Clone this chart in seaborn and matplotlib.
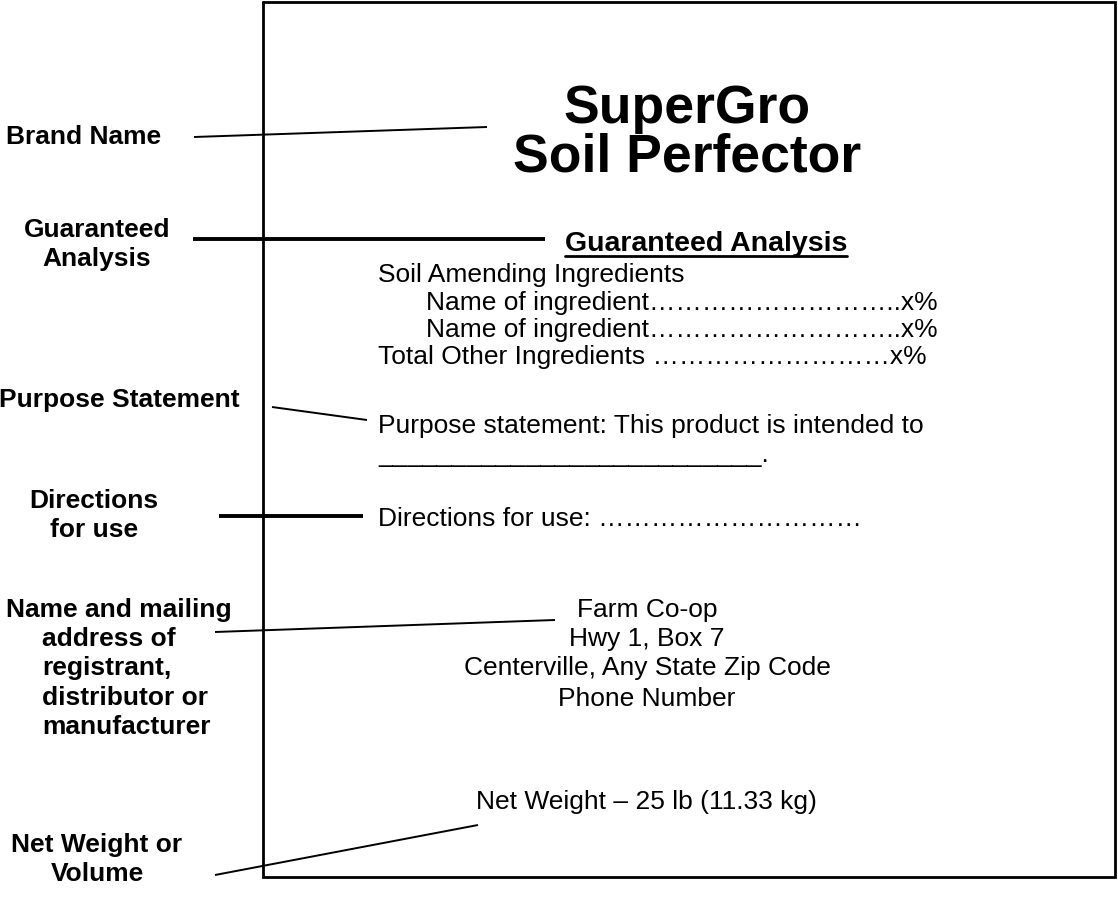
import matplotlib
matplotlib.use("Agg")
import matplotlib.pyplot as plt
import seaborn as sns

# Labels on the left side (bold), one entry per text line
label_lines = ['Brand Name',
               'Guaranteed', 'Analysis',
               'Purpose Statement',
               'Directions', 'for use',
               'Name and mailing', 'address of', 'registrant,',
               'distributor or', 'manufacturer',
               'Net Weight or', 'Volume']
label_x = [84, 97, 97, 119, 94, 94, 6, 42, 42, 42, 42, 97, 97]
label_y = [144, 237, 266, 407, 508, 537, 617, 646, 675, 705, 734, 852, 881]
label_ha = ['center', 'center', 'center', 'center', 'center', 'center',
            'left', 'left', 'left', 'left', 'left', 'center', 'center']

# Connector lines from each label to the label panel
conn_x0 = [194, 193, 272, 219, 215, 215]
conn_y0 = [137, 239, 407, 516, 632, 875]
conn_x1 = [487, 545, 367, 363, 555, 478]
conn_y1 = [127, 239, 420, 516, 620, 825]
conn_lw = [1.4, 2.8, 1.4, 2.8, 1.4, 1.4]

# Product label text
title_lines = ['SuperGro', 'Soil Perfector']
title_y = [123, 171]

ga_title = 'Guaranteed Analysis'

body_lines = ['Soil Amending Ingredients',
              'Name of ingredient' + '\u2026' * 9 + '..x%',
              'Name of ingredient' + '\u2026' * 9 + '..x%',
              'Total Other Ingredients ' + '\u2026' * 9 + 'x%',
              'Purpose statement: This product is intended to',
              '_' * 26 + '.',
              'Directions for use: ' + '\u2026' * 10]
body_x = [378, 426, 426, 378, 378, 378, 378]
body_y = [282, 310, 337, 364, 433, 462, 526]

address_lines = ['Farm Co-op', 'Hwy 1, Box 7',
                 'Centerville, Any State Zip Code', 'Phone Number']
address_y = [617, 646, 675, 706]

net_weight = 'Net Weight \u2013 25 lb (11.33 kg)'

sns.set_theme(style='white')
plt.rcParams['font.family'] = ['Liberation Sans', 'DejaVu Sans']

fig = plt.figure(figsize=(11.18, 9.05), dpi=100)
ax = fig.add_axes([0, 0, 1, 1])
ax.set_xlim(0, 1118)
ax.set_ylim(905, 0)
ax.axis('off')

# Label panel border
ax.plot([263, 1115, 1115, 263, 263], [2, 2, 877, 877, 2],
        color='black', lw=2, solid_joinstyle='miter')

for txt, x, y, ha in zip(label_lines, label_x, label_y, label_ha):
    ax.text(x, y, txt, ha=ha, va='baseline', fontsize=19,
            fontweight='bold', color='black')

for x0, y0, x1, y1, lw in zip(conn_x0, conn_y0, conn_x1, conn_y1, conn_lw):
    ax.plot([x0, x1], [y0, y1], color='black', lw=lw,
            solid_capstyle='butt')

for txt, y in zip(title_lines, title_y):
    ax.text(687, y, txt, ha='center', va='baseline', fontsize=38.5,
            fontweight='bold', color='black')

ga = ax.text(706, 251, ga_title, ha='center', va='baseline', fontsize=20.5,
             fontweight='bold', color='black')

for txt, x, y in zip(body_lines, body_x, body_y):
    ax.text(x, y, txt, ha='left', va='baseline', fontsize=19, color='black')

for txt, y in zip(address_lines, address_y):
    ax.text(647, y, txt, ha='center', va='baseline', fontsize=19,
            color='black')

ax.text(646, 809, net_weight, ha='center', va='baseline', fontsize=19,
        color='black')

# Underline the Guaranteed Analysis heading
fig.canvas.draw()
bb = ga.get_window_extent().transformed(ax.transData.inverted())
ax.plot([bb.x0, bb.x1], [256, 256], color='black', lw=2)

plt.savefig('out.png', dpi=100, facecolor='white')
